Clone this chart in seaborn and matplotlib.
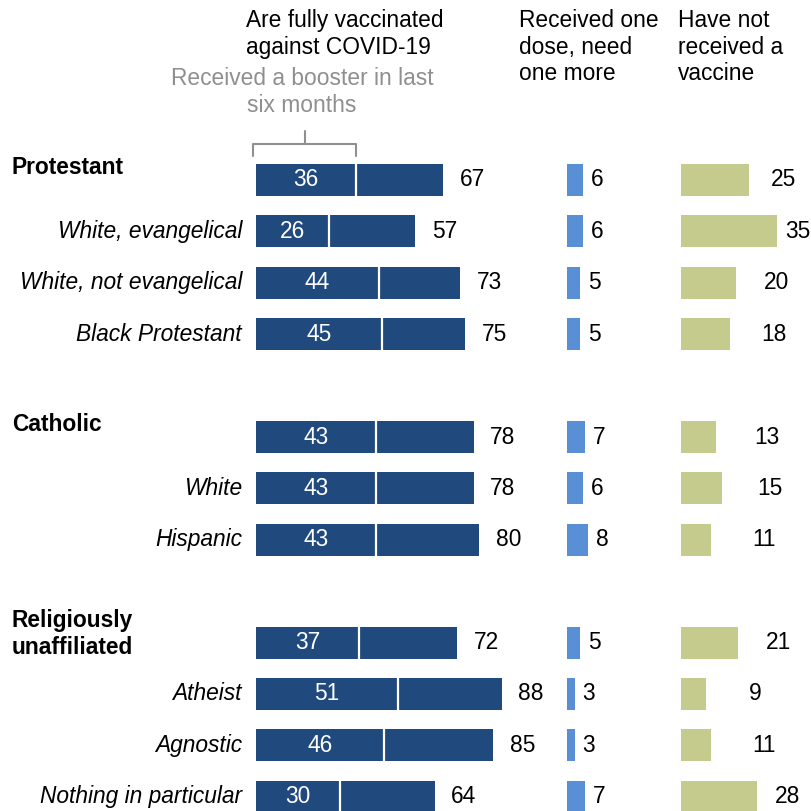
import matplotlib
matplotlib.use("Agg")
import matplotlib.pyplot as plt
import matplotlib.transforms as mtransforms
from matplotlib.lines import Line2D
import pandas as pd
import seaborn as sns

# ---- data -------------------------------------------------------------
labels = ["Protestant", "White, evangelical", "White, not evangelical",
          "Black Protestant", "Catholic", "White", "Hispanic",
          "Religiously\nunaffiliated", "Atheist", "Agnostic",
          "Nothing in particular"]
is_group = [True, False, False, False, True, False, False,
            True, False, False, False]
fully_vaccinated = [67, 57, 73, 75, 78, 78, 80, 72, 88, 85, 64]
booster = [36, 26, 44, 45, 43, 43, 43, 37, 51, 46, 30]
one_dose = [6, 6, 5, 5, 7, 6, 8, 5, 3, 3, 7]
not_vaccinated = [25, 35, 20, 18, 13, 15, 11, 21, 9, 11, 28]

df = pd.DataFrame({"label": labels, "fully": fully_vaccinated,
                   "booster": booster, "one_dose": one_dose,
                   "none": not_vaccinated, "group": is_group})

# blank rows separate the three religious families
order = labels[:4] + [" "] + labels[4:7] + ["  "] + labels[7:]
pos = {lab: order.index(lab) for lab in labels}

DARK = "#20497d"
LIGHT = "#588fd5"
OLIVE = "#c5ca8d"
GREY = "#8f8f8f"
FS = 16.4

sns.set_theme(style="white")
plt.rcParams["font.family"] = ["Liberation Sans", "DejaVu Sans"]

W, H = 812, 811
fig = plt.figure(figsize=(W / 100, H / 100), dpi=100)
fig.patch.set_facecolor("white")

TOP_PX, ROW0_PX, ROW_PX = 130, 180, 51.4
ylim = ((H - ROW0_PX) / ROW_PX, (TOP_PX - ROW0_PX) / ROW_PX)
BAR_W = 0.62


def panel(left_px, width_px, px_per_unit):
    ax = fig.add_axes([left_px / W, 0, width_px / W, (H - TOP_PX) / H])
    ax.set_xlim(0, width_px / px_per_unit)
    return ax


def finish(ax):
    ax.set_ylim(*ylim)
    ax.set_xticks([])
    ax.set_yticks([])
    ax.set_xlabel("")
    ax.set_ylabel("")
    for s in ax.spines.values():
        s.set_visible(False)
    ax.patch.set_alpha(0)


ax1 = panel(256, 300, 2.79)
ax2 = panel(567, 100, 2.6)
ax3 = panel(681, 131, 2.73)

sns.barplot(data=df, x="fully", y="label", order=order, orient="h",
            color=DARK, saturation=1, width=BAR_W, errorbar=None, ax=ax1,
            linewidth=0)
sns.barplot(data=df, x="one_dose", y="label", order=order, orient="h",
            color=LIGHT, saturation=1, width=BAR_W, errorbar=None, ax=ax2,
            linewidth=0)
sns.barplot(data=df, x="none", y="label", order=order, orient="h",
            color=OLIVE, saturation=1, width=BAR_W, errorbar=None, ax=ax3,
            linewidth=0)
for ax in (ax1, ax2, ax3):
    finish(ax)

# booster share inside the fully vaccinated bar
for lab, b, v in zip(labels, booster, fully_vaccinated):
    y = pos[lab]
    ax1.vlines(b, y - BAR_W / 2, y + BAR_W / 2, color="white", lw=1.6)
    ax1.text(b / 2, y, str(b), ha="center", va="center", color="white",
             fontsize=FS)
    ax1.text(v + 6, y, str(v), ha="left", va="center", color="black",
             fontsize=FS, clip_on=False)

for lab, v in zip(labels, one_dose):
    ax2.text(v + 3, pos[lab], str(v), ha="left", va="center",
             color="black", fontsize=FS, clip_on=False)

for lab, v in zip(labels, not_vaccinated):
    ax3.text(0.5 * v + 20.5, pos[lab], str(v), ha="left", va="center",
             color="black", fontsize=FS, clip_on=False)

# row labels: family names sit a little above their bar
row_tf = mtransforms.blended_transform_factory(fig.transFigure, ax1.transData)
for lab, grp in zip(labels, is_group):
    y = pos[lab]
    if grp:
        lift = 0.17 if "\n" in lab else 0.25
        fig.text(12 / W, y - lift, lab, transform=row_tf, ha="left",
                 va="center", fontsize=FS, fontweight="bold", color="black")
    else:
        fig.text(242 / W, y, lab, transform=row_tf, ha="right",
                 va="center", fontsize=FS, style="italic", color="black")

# column headers
fig.text(246 / W, 1 - 9 / H, "Are fully vaccinated\nagainst COVID-19",
         ha="left", va="top", fontsize=FS, color="black")
fig.text(302 / W, 1 - 67 / H, "Received a booster in last\nsix months",
         ha="center", va="top", fontsize=FS, color=GREY,
         multialignment="center")
fig.text(519 / W, 1 - 9 / H, "Received one\ndose, need\none more",
         ha="left", va="top", fontsize=FS, color="black")
fig.text(678 / W, 1 - 9 / H, "Have not\nreceived a\nvaccine",
         ha="left", va="top", fontsize=FS, color="black")

# bracket over the booster segment of the first bar
br_tf = mtransforms.blended_transform_factory(ax1.transData, fig.transFigure)
b0 = booster[0]
yb, yt, yc = 1 - 156 / H, 1 - 144 / H, 1 - 131 / H
fig.add_artist(Line2D([-1.2, -1.2, b0, b0], [yb, yt, yt, yb],
                      transform=br_tf, color=GREY, lw=1.5,
                      solid_joinstyle="round", solid_capstyle="round"))
fig.add_artist(Line2D([b0 / 2 - 0.4, b0 / 2 - 0.4], [yt, yc],
                      transform=br_tf, color=GREY, lw=1.5,
                      solid_capstyle="round"))

fig.savefig("out.png", dpi=100, facecolor="white")
